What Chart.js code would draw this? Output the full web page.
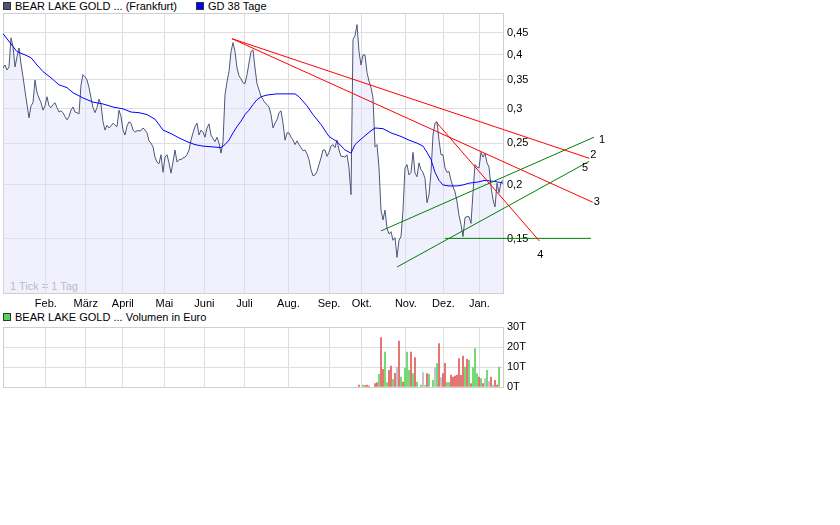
<!DOCTYPE html>
<html>
<head>
<meta charset="utf-8">
<script src="https://cdn.jsdelivr.net/npm/chart.js@4.4.1/dist/chart.umd.min.js"></script>
<style>
  body { margin: 0; background: #fff; width: 840px; height: 525px; position: relative; overflow: hidden;
         font-family: "Liberation Sans", Arial, sans-serif; }
  canvas { position: absolute; left: 0; }
  #main { top: 0; }
  #vol { top: 310px; }
  .leg { position: absolute; font-size: 11px; line-height: 12px; color: #000; white-space: nowrap; }
  .sq { position: absolute; width: 6px; height: 6px; border: 1px solid #333; }
  .note { position: absolute; font-size: 11px; line-height: 12px; color: #a0a0a0; }
</style>
</head>
<body>
<div class="sq" style="left:3px;top:2px;background:#4e5677"></div>
<div class="leg" style="left:15px;top:0px">BEAR LAKE GOLD ... (Frankfurt)</div>
<div class="sq" style="left:196px;top:2px;background:#0000ff"></div>
<div class="leg" style="left:208px;top:0px">GD 38 Tage</div>
<div class="note" style="left:10px;top:280px">1 Tick = 1 Tag</div>
<div class="sq" style="left:3px;top:313px;background:#5ad25a"></div>
<div class="leg" style="left:15px;top:311px">BEAR LAKE GOLD ... Volumen in Euro</div>

<canvas id="main" width="840" height="310"></canvas>
<canvas id="vol" width="840" height="90"></canvas>

<script>
// x axis = trading day index (1 Tick = 1 Tag)
const monthTickDays = [21.4, 41.4, 59.9, 80.7, 100.7, 120.7, 142.7, 163, 179.4, 201.4, 220.2, 238.2];
const monthLabels = ['Feb.', 'März', 'April', 'Mai', 'Juni', 'Juli', 'Aug.', 'Sep.', 'Okt.', 'Nov.', 'Dez.', 'Jan.'];
const priceTicks = [0.15, 0.2, 0.25, 0.3, 0.35, 0.4, 0.45];
const volumeTicks = [0, 10, 20, 30];

// closing prices, one per trading day
const prices = [
  0.373, 0.379, 0.369, 0.375, 0.438, 0.418, 0.375, 0.396, 0.415, 0.381,
  0.356, 0.330, 0.307, 0.286, 0.305, 0.310, 0.350, 0.327, 0.318, 0.310,
  0.298, 0.305, 0.320, 0.305, 0.302, 0.307, 0.310, 0.302, 0.295, 0.297,
  0.294, 0.288, 0.283, 0.288, 0.298, 0.303, 0.295, 0.294, 0.292, 0.341,
  0.360, 0.356, 0.350, 0.336, 0.318, 0.302, 0.294, 0.302, 0.316, 0.307,
  0.280, 0.268, 0.275, 0.271, 0.274, 0.278, 0.275, 0.273, 0.298, 0.288,
  0.268, 0.261, 0.274, 0.280, 0.278, 0.268, 0.265, 0.267, 0.267, 0.267,
  0.271, 0.268, 0.264, 0.253, 0.250, 0.245, 0.232, 0.226, 0.224, 0.235,
  0.214, 0.232, 0.235, 0.225, 0.213, 0.226, 0.241, 0.226, 0.229, 0.229,
  0.231, 0.232, 0.235, 0.241, 0.254, 0.264, 0.273, 0.278, 0.261, 0.268,
  0.265, 0.258, 0.271, 0.277, 0.261, 0.256, 0.252, 0.258, 0.250, 0.237,
  0.252, 0.323, 0.347, 0.366, 0.407, 0.427, 0.407, 0.373, 0.358, 0.352,
  0.345, 0.343, 0.360, 0.383, 0.407, 0.411, 0.373, 0.343, 0.332, 0.321,
  0.315, 0.310, 0.307, 0.303, 0.291, 0.271, 0.278, 0.283, 0.294, 0.297,
  0.278, 0.254, 0.264, 0.264, 0.258, 0.254, 0.248, 0.253, 0.248, 0.244,
  0.240, 0.241, 0.236, 0.229, 0.217, 0.210, 0.211, 0.215, 0.223, 0.231,
  0.241, 0.241, 0.233, 0.238, 0.246, 0.248, 0.244, 0.254, 0.241, 0.233,
  0.233, 0.232, 0.235, 0.219, 0.190, 0.434, 0.443, 0.470, 0.407, 0.379,
  0.400, 0.400, 0.364, 0.348, 0.336, 0.318, 0.245, 0.248, 0.219, 0.175,
  0.166, 0.175, 0.159, 0.154, 0.156, 0.149, 0.151, 0.136, 0.149, 0.152,
  0.175, 0.219, 0.223, 0.211, 0.214, 0.238, 0.213, 0.209, 0.225, 0.217,
  0.214, 0.207, 0.182, 0.190, 0.214, 0.261, 0.278, 0.280, 0.254, 0.235,
  0.235, 0.219, 0.214, 0.215, 0.205, 0.198, 0.193, 0.183, 0.170, 0.162,
  0.152, 0.168, 0.169, 0.169, 0.163, 0.192, 0.223, 0.220, 0.219, 0.238,
  0.232, 0.237, 0.225, 0.220, 0.198, 0.185, 0.178, 0.202, 0.192, 0.203, 0.205
];

// GD 38 Tage (moving average)
const avgDays = [0, 4, 7, 11, 14, 17, 20, 24, 28, 32, 35, 40, 45, 50, 55, 60, 64, 68, 72, 76,
  80, 84, 88, 92, 96, 100, 105, 109, 111, 113, 115, 117, 119, 121, 123, 125, 127, 129, 132, 137,
  142, 146, 148, 152, 155, 159, 163, 167, 171, 174, 176, 178, 181, 184, 186, 190, 194, 199, 203, 207,
  210, 212, 214, 216, 218, 220, 223, 227, 230, 233, 237, 241, 245, 248, 250];
const avg38 = [0.448, 0.424, 0.407, 0.400, 0.394, 0.379, 0.366, 0.354, 0.341, 0.336,
  0.327, 0.318, 0.311, 0.308, 0.303, 0.300, 0.295, 0.294, 0.291, 0.284,
  0.268, 0.263, 0.257, 0.252, 0.248, 0.246, 0.245, 0.244, 0.248, 0.254,
  0.264, 0.273, 0.281, 0.291, 0.298, 0.307, 0.315, 0.320, 0.323, 0.325,
  0.325, 0.325, 0.320, 0.305, 0.291, 0.276, 0.259, 0.252, 0.241, 0.237,
  0.248, 0.253, 0.260, 0.267, 0.271, 0.270, 0.264, 0.259, 0.254, 0.250,
  0.246, 0.238, 0.229, 0.214, 0.205, 0.200, 0.199, 0.199, 0.200, 0.202,
  0.203, 0.205, 0.204, 0.203, 0.202];

// volume in thousand euro; u = up day, d = down day, f = unchanged
const volDays = [178, 180, 181, 182, 183, 186, 187, 188, 189, 190, 191, 192, 193, 194, 195, 196, 197, 198, 199, 200,
  201, 202, 203, 204, 205, 206, 207, 209, 210, 211, 212, 213, 215, 216, 217, 218, 219, 220, 221, 222,
  223, 224, 225, 226, 227, 228, 229, 230, 231, 232, 233, 234, 235, 236, 237, 238, 239, 240, 241, 242,
  243, 244, 245, 246, 247, 248];
const volValues = [1.0, 1.0, 0.7, 1.0, 0.5, 1.7, 2.2, 6.3, 24.7, 8.8, 17.5, 2.2, 8.3, 10.5, 3.8, 6.8, 10, 23, 5, 2.5,
  9.5, 17.5, 8.3, 17.5, 6.7, 14.7, 2.5, 1, 7.2, 1, 6.7, 6.3, 3.3, 9.7, 11.7, 21.7, 4.7, 6.7, 11.8, 2.2,
  2.2, 6, 5, 5.5, 6, 14.2, 5.8, 15.5, 10, 13.8, 13.3, 1.7, 9.7, 19.2, 6.7, 5, 4.2, 1.7, 4.2, 8.3,
  2.7, 5, 1, 3.3, 1, 10];
const volDir = ['d', 'u', 'd', 'd', 'd', 'd', 'd', 'u', 'd', 'd', 'u', 'u', 'd', 'd', 'u', 'd', 'f', 'd', 'u', 'd',
  'u', 'u', 'u', 'd', 'u', 'd', 'u', 'u', 'f', 'f', 'd', 'u', 'u', 'f', 'u', 'd', 'f', 'd', 'd', 'u',
  'u', 'd', 'd', 'd', 'd', 'd', 'd', 'd', 'u', 'd', 'u', 'd', 'u', 'u', 'u', 'd', 'u', 'd', 'f', 'u',
  'f', 'd', 'f', 'd', 'd', 'u'];

// trend lines drawn on the chart: [day, price] start / end
const trendNames = ['2', '3', '4', '1', '5', ''];
const trendFrom = [[114.5, 0.436], [114.5, 0.436], [216.5, 0.280], [189, 0.1566], [197, 0.1292], [221, 0.1505]];
const trendTo = [[293.2, 0.2305], [294.9, 0.1824], [268.2, 0.1484], [295.5, 0.258], [293, 0.2268], [294, 0.1505]];
const trendKind = ['down', 'down', 'down', 'up', 'up', 'up'];

// styles
const gridColor = '#dedede';
const frameColor = '#cfcfcf';
const trendColors = { down: '#ff0000', up: '#008000' };
const volColors = { u: '#5ad25a', d: '#e05a5a', f: '#b9b9b9' };
const labelOffsets = { '1': [8, 3], '2': [4, -3], '3': [4, 0], '4': [1, 14], '5': [-4, 7] };

Chart.defaults.font.family = '"Liberation Sans", Arial, sans-serif';
Chart.defaults.font.size = 11;
Chart.defaults.color = '#000';

const framePlugin = {
  id: 'frame',
  beforeDatasetsDraw(chart) {
    const a = chart.chartArea, ctx = chart.ctx;
    ctx.save();
    ctx.strokeStyle = frameColor;
    ctx.lineWidth = 1;
    ctx.strokeRect(a.left + 0.5, a.top + 0.5, a.right - a.left, a.bottom - a.top);
    ctx.restore();
  }
};

const trendLabelPlugin = {
  id: 'trendLabels',
  afterDatasetsDraw(chart) {
    const ctx = chart.ctx, xs = chart.scales.x, ys = chart.scales.y;
    ctx.save();
    ctx.fillStyle = '#000';
    ctx.font = '11px "Liberation Sans", Arial, sans-serif';
    ctx.textAlign = 'center';
    ctx.textBaseline = 'middle';
    trendNames.forEach((name, i) => {
      if (!name) return;
      const off = labelOffsets[name];
      const px = xs.getPixelForValue(trendTo[i][0]) + off[0];
      const py = ys.getPixelForValue(trendTo[i][1]) + off[1];
      ctx.fillText(name, px, py);
    });
    ctx.restore();
  }
};

const trendSets = trendNames.map((name, i) => ({
  label: 'Trend ' + name,
  data: [{ x: trendFrom[i][0], y: trendFrom[i][1] }, { x: trendTo[i][0], y: trendTo[i][1] }],
  borderColor: trendColors[trendKind[i]],
  borderWidth: 1,
  pointRadius: 0,
  fill: false,
  clip: false
}));

const xMonthAxis = (showLabels) => ({
  type: 'linear',
  min: 0,
  max: 250,
  offset: false,
  afterBuildTicks: scale => { scale.ticks = monthTickDays.map(v => ({ value: v })); },
  afterFit: scale => { scale.height = showLabels ? 17 : 13; },
  grid: { color: gridColor, drawTicks: false, offset: false },
  border: { display: false },
  ticks: {
    display: showLabels,
    autoSkip: false,
    maxRotation: 0,
    padding: 4,
    callback: (v, i) => monthLabels[i]
  }
});

new Chart(document.getElementById('main'), {
  type: 'line',
  data: {
    datasets: [
      ...trendSets,
      {
        label: 'GD 38 Tage',
        data: avgDays.map((d, i) => ({ x: d, y: avg38[i] })),
        borderColor: '#0000ff',
        borderWidth: 1,
        pointRadius: 0,
        fill: false
      },
      {
        label: 'BEAR LAKE GOLD ... (Frankfurt)',
        data: prices.map((p, i) => ({ x: i, y: p })),
        borderColor: '#4e5677',
        borderWidth: 1,
        pointRadius: 0,
        fill: 'start',
        backgroundColor: 'rgba(222, 222, 250, 0.42)'
      }
    ]
  },
  options: {
    responsive: false,
    animation: false,
    devicePixelRatio: 1,
    layout: { padding: { left: 3, top: 13, right: 0, bottom: 0 } },
    plugins: { legend: { display: false }, tooltip: { enabled: false } },
    scales: {
      x: xMonthAxis(true),
      y: {
        type: 'logarithmic',
        position: 'right',
        min: 0.1125,
        max: 0.5,
        bounds: 'data',
        afterBuildTicks: scale => { scale.ticks = priceTicks.map(v => ({ value: v })); },
        afterFit: scale => { scale.width = 337; },
        grid: { color: gridColor, drawTicks: false },
        border: { display: false },
        ticks: {
          padding: 4,
          callback: v => String(v).replace('.', ',')
        }
      }
    }
  },
  plugins: [framePlugin, trendLabelPlugin]
});

new Chart(document.getElementById('vol'), {
  type: 'bar',
  data: {
    datasets: [{
      label: 'Volumen in Euro',
      data: volDays.map((d, i) => ({ x: d, y: volValues[i] })),
      backgroundColor: volDir.map(k => volColors[k]),
      barThickness: 1,
      borderWidth: 0
    }]
  },
  options: {
    responsive: false,
    animation: false,
    devicePixelRatio: 1,
    layout: { padding: { left: 3, top: 17, right: 0, bottom: 0 } },
    plugins: { legend: { display: false }, tooltip: { enabled: false } },
    scales: {
      x: xMonthAxis(false),
      y: {
        type: 'linear',
        position: 'right',
        min: 0,
        max: 30,
        afterBuildTicks: scale => { scale.ticks = volumeTicks.map(v => ({ value: v })); },
        afterFit: scale => { scale.width = 337; },
        grid: { color: gridColor, drawTicks: false },
        border: { display: false },
        ticks: {
          padding: 4,
          callback: v => v + 'T'
        }
      }
    }
  },
  plugins: [framePlugin]
});
</script>
</body>
</html>
